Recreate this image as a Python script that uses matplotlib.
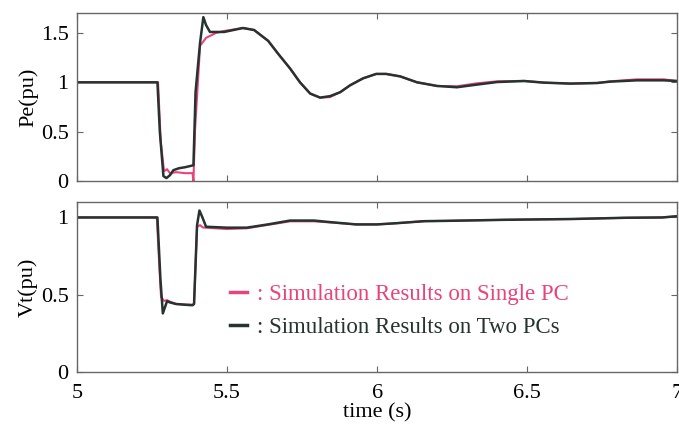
import matplotlib.pyplot as plt
from matplotlib.lines import Line2D

plt.rcParams['font.family'] = ['Liberation Serif', 'DejaVu Serif']

# Pe (pu) - simulation on two PCs
pe_two_t = [5.0, 5.268, 5.276, 5.288, 5.298, 5.31, 5.321, 5.34, 5.36, 5.388,
            5.395, 5.41, 5.421, 5.43, 5.443, 5.49, 5.553, 5.59, 5.637, 5.67,
            5.71, 5.743, 5.777, 5.81, 5.843, 5.877, 5.91, 5.953, 5.997, 6.03,
            6.077, 6.133, 6.2, 6.266, 6.333, 6.4, 6.49, 6.555, 6.644, 6.733,
            6.777, 6.866, 6.955, 7.0]
pe_two = [1.0, 1.0, 0.5, 0.05, 0.03, 0.06, 0.11, 0.13, 0.14, 0.16,
          0.9, 1.4, 1.66, 1.58, 1.51, 1.51, 1.55, 1.53, 1.42, 1.29,
          1.14, 1.0, 0.886, 0.845, 0.86, 0.90, 0.97, 1.04, 1.085, 1.085,
          1.06, 1.0, 0.963, 0.95, 0.977, 1.003, 1.013, 0.997, 0.987, 0.993,
          1.007, 1.02, 1.02, 1.013]

# Pe (pu) - simulation on single PC
pe_one_t = [5.0, 5.27, 5.279, 5.29, 5.30, 5.31, 5.33, 5.36, 5.385, 5.388,
            5.393, 5.41, 5.43, 5.463, 5.49, 5.553, 5.59, 5.637, 5.67,
            5.71, 5.743, 5.777, 5.81, 5.843, 5.877, 5.91, 5.953, 5.997, 6.03,
            6.077, 6.133, 6.2, 6.266, 6.333, 6.4, 6.49, 6.555, 6.644, 6.733,
            6.777, 6.866, 6.955, 7.0]
pe_one = [1.0, 1.0, 0.4, 0.10, 0.12, 0.08, 0.09, 0.08, 0.08, 0.0,
          0.5, 1.37, 1.45, 1.50, 1.52, 1.55, 1.53, 1.42, 1.29,
          1.14, 1.0, 0.886, 0.845, 0.85, 0.90, 0.97, 1.04, 1.085, 1.085,
          1.06, 1.0, 0.963, 0.96, 0.99, 1.01, 1.015, 0.997, 0.987, 0.993,
          1.01, 1.03, 1.03, 1.013]

# Vt (pu) - simulation on two PCs
vt_two_t = [5.0, 5.268, 5.278, 5.286, 5.30, 5.31, 5.33, 5.36, 5.385, 5.39,
            5.40, 5.408, 5.418, 5.43, 5.5, 5.566, 5.636, 5.71, 5.79, 5.843,
            5.93, 6.0, 6.066, 6.157, 6.23, 6.43, 6.65, 6.83, 6.95, 7.0]
vt_two = [1.0, 1.0, 0.6, 0.379, 0.458, 0.45, 0.44, 0.435, 0.432, 0.44,
          0.95, 1.045, 1.0, 0.94, 0.934, 0.934, 0.955, 0.98, 0.98, 0.97,
          0.955, 0.955, 0.963, 0.976, 0.978, 0.985, 0.99, 0.998, 1.0, 1.008]

# Vt (pu) - simulation on single PC
vt_one_t = [5.0, 5.266, 5.274, 5.28, 5.29, 5.30, 5.31, 5.33, 5.36, 5.385, 5.39,
            5.40, 5.41, 5.42, 5.5, 5.566, 5.636, 5.71, 5.79, 5.843,
            5.93, 6.0, 6.066, 6.157, 6.23, 6.43, 6.65, 6.83, 6.95, 7.0]
vt_one = [1.0, 1.0, 0.7, 0.486, 0.46, 0.465, 0.455, 0.44, 0.437, 0.435, 0.44,
          0.94, 0.95, 0.935, 0.925, 0.93, 0.952, 0.975, 0.975, 0.968,
          0.955, 0.955, 0.963, 0.976, 0.978, 0.985, 0.99, 0.998, 1.0, 1.008]

PINK = '#e8447c'
DARK = '#26332f'
FRAME = '#666666'

fig = plt.figure(figsize=(6.79, 4.26), dpi=100)
ax1 = fig.add_axes([0.1134, 0.575, 0.884, 0.394])
ax2 = fig.add_axes([0.1134, 0.1268, 0.884, 0.399])

for ax in (ax1, ax2):
    ax.set_xlim(5, 7)
    ax.set_xticks([5, 5.5, 6, 6.5, 7])
    ax.tick_params(direction='in', top=True, right=True, length=4,
                   color=FRAME, labelsize=16, pad=6)
    ax.tick_params(axis='x', pad=9)
    for s in ax.spines.values():
        s.set_color(FRAME)
        s.set_linewidth(1.0)

ax1.plot(pe_one_t, pe_one, color=PINK, lw=1.5)
ax1.plot(pe_two_t, pe_two, color=DARK, lw=1.8)
ax1.set_ylim(0, 1.7)
ax1.set_yticks([0, 0.5, 1, 1.5])
ax1.set_yticklabels(['0', '0.5', '1', '1.5'])
ax1.set_xticklabels([])
ax1.set_ylabel('Pe(pu)', fontsize=16, labelpad=2)

ax2.plot(vt_one_t, vt_one, color=PINK, lw=1.5)
ax2.plot(vt_two_t, vt_two, color=DARK, lw=1.8)
ax2.set_ylim(0, 1.1)
ax2.set_yticks([0, 0.5, 1])
ax2.set_yticklabels(['0', '0.5', '1'])
ax2.set_xticklabels(['5', '5.5', '6', '6.5', '7'])
ax2.set_ylabel('Vt(pu)', fontsize=16, labelpad=2)
ax2.set_xlabel('time (s)', fontsize=16, labelpad=0)

handles = [Line2D([], [], color=PINK, lw=2.5), Line2D([], [], color=DARK, lw=2.5)]
labels = [': Simulation Results on Single PC', ': Simulation Results on Two PCs']
ax2.legend(handles, labels, loc='center left', bbox_to_anchor=(0.22, 0.36),
           frameon=False, labelcolor=[PINK, DARK], handlelength=0.75,
           handletextpad=0.45, fontsize=16.5, labelspacing=0.5)

fig.savefig('out.png', dpi=100)
